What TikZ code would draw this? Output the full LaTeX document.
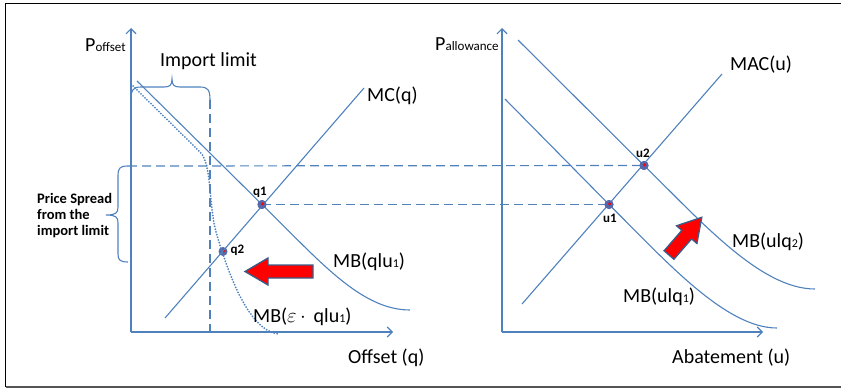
\documentclass[tikz,border=0pt]{standalone}
\usepackage{fontspec}
\setmainfont{Carlito}
\usetikzlibrary{arrows.meta}

\definecolor{curveblue}{RGB}{79,129,189}
\definecolor{arrowedge}{RGB}{56,93,138}
\definecolor{dotblue}{RGB}{84,104,170}
\definecolor{framegray}{RGB}{85,85,85}

\newcommand{\bigtxt}{\fontsize{20}{24}\selectfont}
\newcommand{\subtxt}[1]{{\fontsize{12}{14}\selectfont #1}}

\begin{document}
\begin{tikzpicture}[x=1pt,y=-1pt,
  curve/.style={draw=curveblue, line width=1.1pt},
  axis/.style={draw=curveblue, line width=1.3pt,
    -{Straight Barb[length=5pt,width=10pt,line width=1.1pt]}},
  guide/.style={draw=curveblue, line width=1.2pt, dash pattern=on 9pt off 5pt},
  dotcurve/.style={draw=curveblue, line width=2pt, dash pattern=on 0pt off 2.8pt, line cap=round},
  eqdot/.style={circle, fill=dotblue, inner sep=0pt, minimum size=9pt,
    path picture={\fill[red] (path picture bounding box.center) ++(0.6pt,0.6pt) circle (1.7pt);}},
  big/.style={font=\bigtxt, inner sep=0pt, anchor=base west},
  tag/.style={font=\fontsize{13}{15}\selectfont\bfseries, inner sep=0pt},
  note/.style={font=\fontsize{14.5}{16}\selectfont\bfseries, inner sep=0pt, anchor=base west},
  shiftarrow/.style={fill=red, draw=arrowedge, line width=1.3pt, line join=miter},
]
\useasboundingbox (0,0) rectangle (841,388);

% frame
\draw[black, line width=1.2pt] (841,3.5) -- (5.5,3.5) -- (5.5,387);
\draw[framegray, line width=1.8pt] (5.5,387) -- (841,387);

% ---------------- offset market ----------------
\coordinate (O1) at (131,332);
\coordinate (Y1) at (131,28);
\coordinate (X1) at (393,332);
\draw[axis] (O1) -- (Y1);
\draw[axis] (O1) -- (X1);

\node[big] (poff) at (85,51) {P\subtxt{\fontsize{13}{15}\selectfont offset}};
\node[big] (offq) at (348,363) {Offset (q)};

% equilibrium points
\node[eqdot] (q1) at (262,204.5) {};
\node[eqdot] (q2) at (223,251.5) {};
\node[tag] (q1l) at (260,192.5) {q1};
\node[tag] (q2l) at (237.5,250.5) {q2};

% import limit brace and guide
\draw[curve] (131,100) .. controls (131,90) and (133,87) .. (141,87) -- (164,87)
  .. controls (170,87) and (172,85) .. (172,79)
  .. controls (172,85) and (174,87) .. (180,87) -- (200,87)
  .. controls (208,87) and (210,90) .. (210,100);
\coordinate (lim) at (210,100);
\coordinate (limb) at (210,332);
\draw[guide] (lim) -- (limb);
\node[big] (implim) at (160,66) {Import limit};

% price spread brace
\draw[curve] (128,166) .. controls (120,166) and (118,168) .. (118,176) -- (118,207)
  .. controls (118,213) and (116,215) .. (106,215)
  .. controls (116,215) and (118,217) .. (118,223) -- (118,254)
  .. controls (118,260) and (120,262) .. (128,262);
\node[note] (ps1) at (37,203) {Price Spread};
\node[note] (ps2) at (37,219) {from the};
\node[note] (ps3) at (37,235) {import limit};

% marginal cost of offsets
\coordinate (mc0) at (165,318);
\coordinate (mc1) at (364,88);
\draw[curve] (mc0) -- (mc1);
\node[big] (mcl) at (367,101) {MC(q)};

% marginal benefit of offsets
\draw[curve] (137,81) -- (q1.center) .. controls (318,259) and (360,310) .. (410,310);
\node[big] (mbl) at (333,267) {MB(qlu\subtxt{1})};

% reduced marginal benefit (dotted)
\draw[dotcurve] (133,86) -- (200,152) .. controls (212,164) and (208,200) .. (216,232)
  .. controls (230,280) and (250,330) .. (278,334);
\node[big] (mbel) at (253,322) {MB($\varepsilon$\,$\cdot$\ \,qlu\subtxt{1})};

% shift arrow
\begin{scope}[shift={(313,271.5)}, rotate=180]
  \draw[shiftarrow] (0,-6.5) -- (45,-6.5) -- (45,-13.5) -- (68,0) -- (45,13.5) -- (45,6.5) -- (0,6.5) -- cycle;
\end{scope}

% ---------------- allowance market ----------------
\coordinate (O2) at (502,332);
\coordinate (Y2) at (502,28);
\coordinate (X2) at (763,332);
\draw[axis] (O2) -- (Y2);
\draw[axis] (O2) -- (X2);

\node[big] (pall) at (435,50) {P\subtxt{\fontsize{13}{15}\selectfont allowance}};
\node[big] (abu) at (672,363) {Abatement (u)};

\node[eqdot] (u1) at (609,204.5) {};
\node[eqdot] (u2) at (644,165.5) {};
\node[tag] (u1l) at (610,218) {u1};
\node[tag] (u2l) at (643,153.5) {u2};

% marginal abatement cost
\coordinate (mac0) at (522,304);
\coordinate (mac1) at (722,74);
\draw[curve] (mac0) -- (mac1);
\node[big] (macl) at (730,70) {MAC(u)};

% marginal benefit curves
\draw[curve] (505,99) -- (u1.center) .. controls (665,260) and (725,328) .. (777,328);
\draw[curve] (518,40) -- (u2.center) .. controls (700,220) and (760,289) .. (815,289);
\node[big] (mbq1) at (623,302) {MB(ulq\subtxt{1})};
\node[big] (mbq2) at (732,247) {MB(ulq\subtxt{2})};

\begin{scope}[shift={(669,255)}, rotate=49]
  \draw[shiftarrow] (0,-6.5) -- (27,-6.5) -- (27,-13.5) -- (50,0) -- (27,13.5) -- (27,6.5) -- (0,6.5) -- cycle;
\end{scope}

% ---------------- price links between markets ----------------
\coordinate (pst) at (128,166);
\draw[guide] (pst) -- (u2.center);
\draw[guide] (q1.center) -- (u1.center);

% redraw the dots above the guides
\node[eqdot] at (q1) {};
\node[eqdot] at (u1) {};
\node[eqdot] at (u2) {};
\end{tikzpicture}
\end{document}
